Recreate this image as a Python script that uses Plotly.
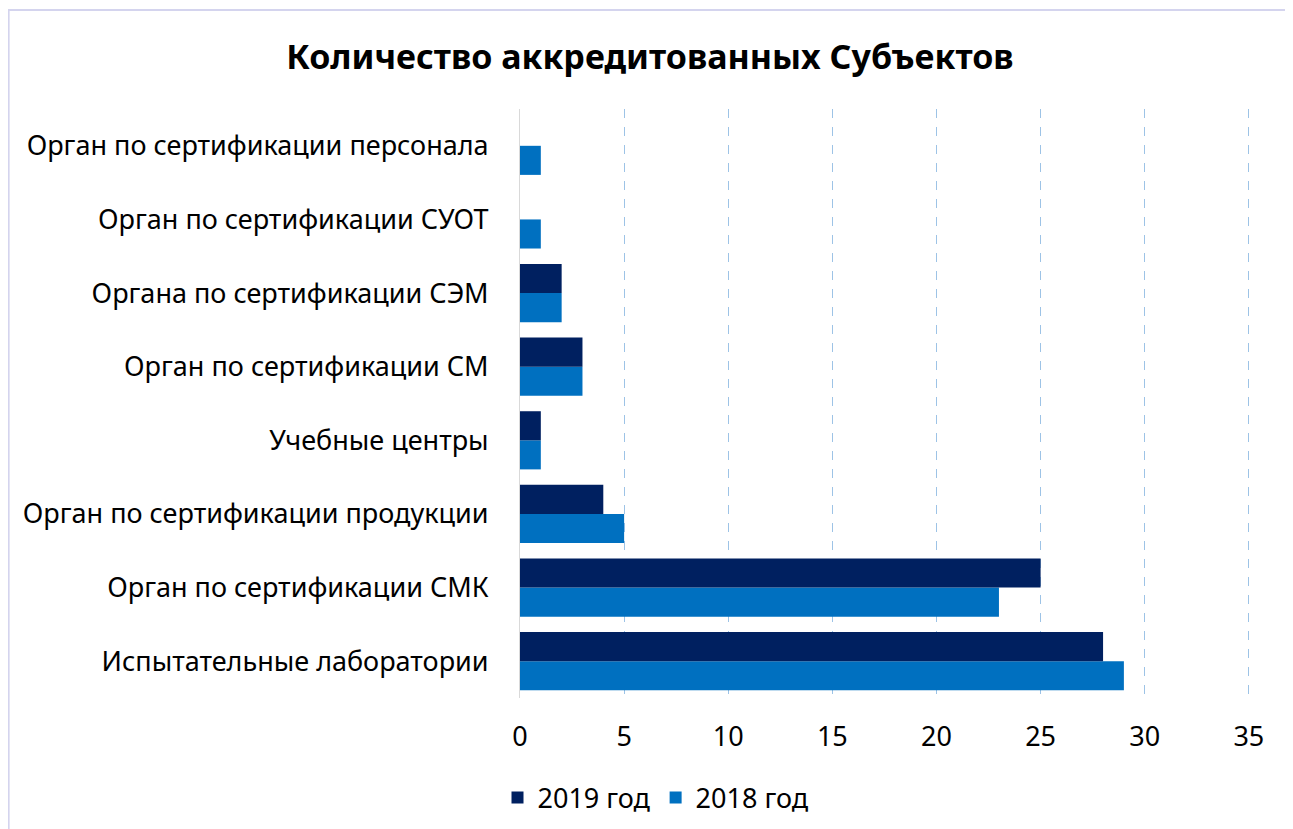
import plotly.graph_objects as go

categories = [
    "Испытательные лаборатории",
    "Орган по сертификации СМК",
    "Орган по сертификации продукции",
    "Учебные центры",
    "Орган по сертификации СМ",
    "Органа по сертификации СЭМ",
    "Орган по сертификации СУОТ",
    "Орган по сертификации персонала",
]
values_2019 = [28, 25, 4, 1, 3, 2, 0, 0]
values_2018 = [29, 23, 5, 1, 3, 2, 1, 1]
x_ticks = [0, 5, 10, 15, 20, 25, 30, 35]

FONT = "Noto Sans"

fig = go.Figure()
fig.add_trace(go.Bar(y=categories, x=values_2018, orientation="h", name="2018 год",
                     marker=dict(color="#0070C0", line=dict(width=0))))
fig.add_trace(go.Bar(y=categories, x=values_2019, orientation="h", name="2019 год",
                     marker=dict(color="#002060", line=dict(width=0))))

# page has an 8px body margin; coordinates below are figure pixels
OFF = 8
W, H = 1293 - OFF, 829 - OFF
XMAX = 35.2
unit = (1249 - 520) / 35.0
L = 520 - OFF
R = L + XMAX * unit
T, B = 109 - OFF, 698 - OFF


def px_x(p):
    return (p - OFF - L) / (R - L)


def px_y(p):
    return (B - (p - OFF)) / (B - T)


fig.update_layout(
    width=W, height=H,
    margin=dict(l=L, r=W - R, t=T, b=H - B),
    paper_bgcolor="white", plot_bgcolor="white",
    barmode="group", bargap=0.21, bargroupgap=0,
    font=dict(family=FONT, size=27, color="#000000"),
    title=dict(text="<b>Количество аккредитованных Субъектов</b>",
               x=(650 - OFF) / W, xanchor="center", xref="container",
               y=1 - (57 - OFF) / H, yanchor="middle", yref="container",
               font=dict(family=FONT, size=34, color="#000000")),
    showlegend=True,
    legend=dict(orientation="h", traceorder="reversed",
                xref="container", yref="container",
                x=(656 - OFF) / W, xanchor="center", y=1 - (798 - OFF) / H, yanchor="middle",
                font=dict(family=FONT, size=27, color="#000000"),
                itemwidth=30),
    xaxis=dict(range=[0, XMAX], tickvals=x_ticks, ticktext=[str(v) for v in x_ticks],
               showgrid=True, gridcolor="#9DC3E6", griddash="dash", gridwidth=1,
               zeroline=False, showline=False, ticks="",
               ticklabelstandoff=20, tickfont=dict(size=27)),
    yaxis=dict(showgrid=False, zeroline=False, showline=True, linecolor="#D9D9D9",
               linewidth=1, ticks="", ticklabelstandoff=25,
               tickfont=dict(size=27)),
    shapes=[dict(type="rect", xref="paper", yref="paper",
                 x0=px_x(8.5), x1=px_x(1320), y0=px_y(860), y1=px_y(10),
                 line=dict(color="#D4D4EE", width=2), fillcolor="rgba(0,0,0,0)",
                 layer="below")],
)

fig.write_html("out.html")
